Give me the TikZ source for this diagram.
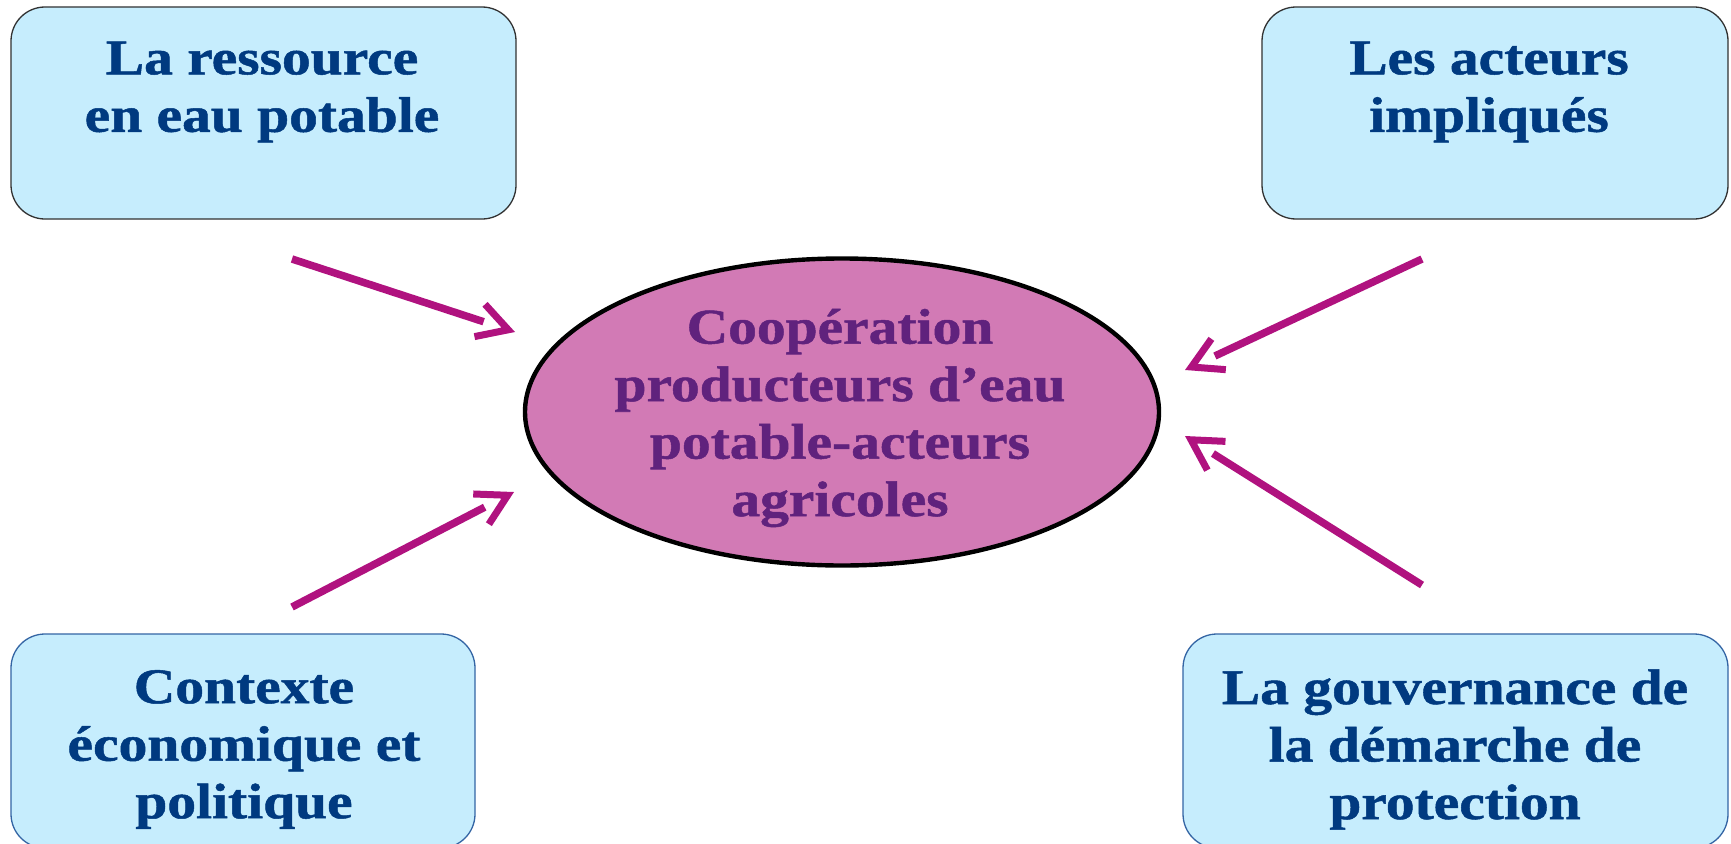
\documentclass[tikz,border=0pt]{standalone}
\usepackage{fontspec}
\newfontfamily\dfont{Liberation Serif}[FakeStretch=1.15,FakeBold=1]
\usetikzlibrary{arrows.meta,shapes.geometric,decorations.markings}
\definecolor{boxfill}{RGB}{198,237,253}
\definecolor{boxtext}{RGB}{0,58,128}
\definecolor{topline}{RGB}{50,50,50}
\definecolor{botline}{RGB}{52,101,164}
\definecolor{ellfill}{RGB}{210,122,181}
\definecolor{elltext}{RGB}{96,34,125}
\definecolor{arrowc}{RGB}{176,18,127}
\begin{document}
\begin{tikzpicture}[x=1pt,y=-1pt,
  box/.style={rectangle, rounded corners=34pt, fill=boxfill, line width=1.3pt, inner sep=0pt},
  topbox/.style={box, draw=topline},
  botbox/.style={box, draw=botline},
  txt/.style={font=\dfont\bfseries\fontsize{50}{57.5}\selectfont, align=center, inner sep=0pt},
  boxtxt/.style={txt, text=boxtext},
  elltxt/.style={txt, text=elltext},
  ell/.style={ellipse, draw=black, fill=ellfill, line width=4.4pt, minimum width=634pt, minimum height=307pt, inner sep=0pt},
  arr/.style={draw=arrowc, line width=7.5pt, shorten >=33pt,
    postaction={draw=none, decorate, decoration={markings,
      mark=at position 1 with {\arrow[arrowc, line width=7pt]{Straight Barb[length=30pt, width=34pt]}}}}}
]
\useasboundingbox (0,0) rectangle (1731,843);
\fill[white] (0,0) rectangle (1731,843);

% boxes
\node[topbox, minimum width=505pt, minimum height=212pt] (b1) at (263.5,113) {};
\node[topbox, minimum width=466pt, minimum height=212pt] (b2) at (1495,113) {};
\node[botbox, minimum width=464pt, minimum height=214pt] (b3) at (243,741) {};
\node[botbox, minimum width=545pt, minimum height=214pt] (b4) at (1455.5,741) {};

\node[boxtxt] (t1) at (262,92) {La ressource\\en eau potable};
\node[boxtxt] (t2) at (1489,92) {Les acteurs\\impliqués};
\node[boxtxt] (t3) at (244,749.5) {Contexte\\économique et\\politique};
\node[boxtxt] (t4) at (1455,749.5) {La gouvernance de\\la démarche de\\protection};

% central ellipse
\node[ell] (c) at (842,412) {};
\node[elltxt] (ct) at (840,418) {Coopération\\producteurs d’eau\\potable-acteurs\\agricoles};

% arrows
\coordinate (s1) at (292,259); \coordinate (e1) at (515,332);
\coordinate (s2) at (292,607); \coordinate (e2) at (514,492);
\coordinate (s3) at (1422,259); \coordinate (e3) at (1185,370);
\coordinate (s4) at (1422,585); \coordinate (e4) at (1185,436);
\draw[arr] (s1) -- (e1);
\draw[arr] (s2) -- (e2);
\draw[arr] (s3) -- (e3);
\draw[arr] (s4) -- (e4);
\end{tikzpicture}
\end{document}
